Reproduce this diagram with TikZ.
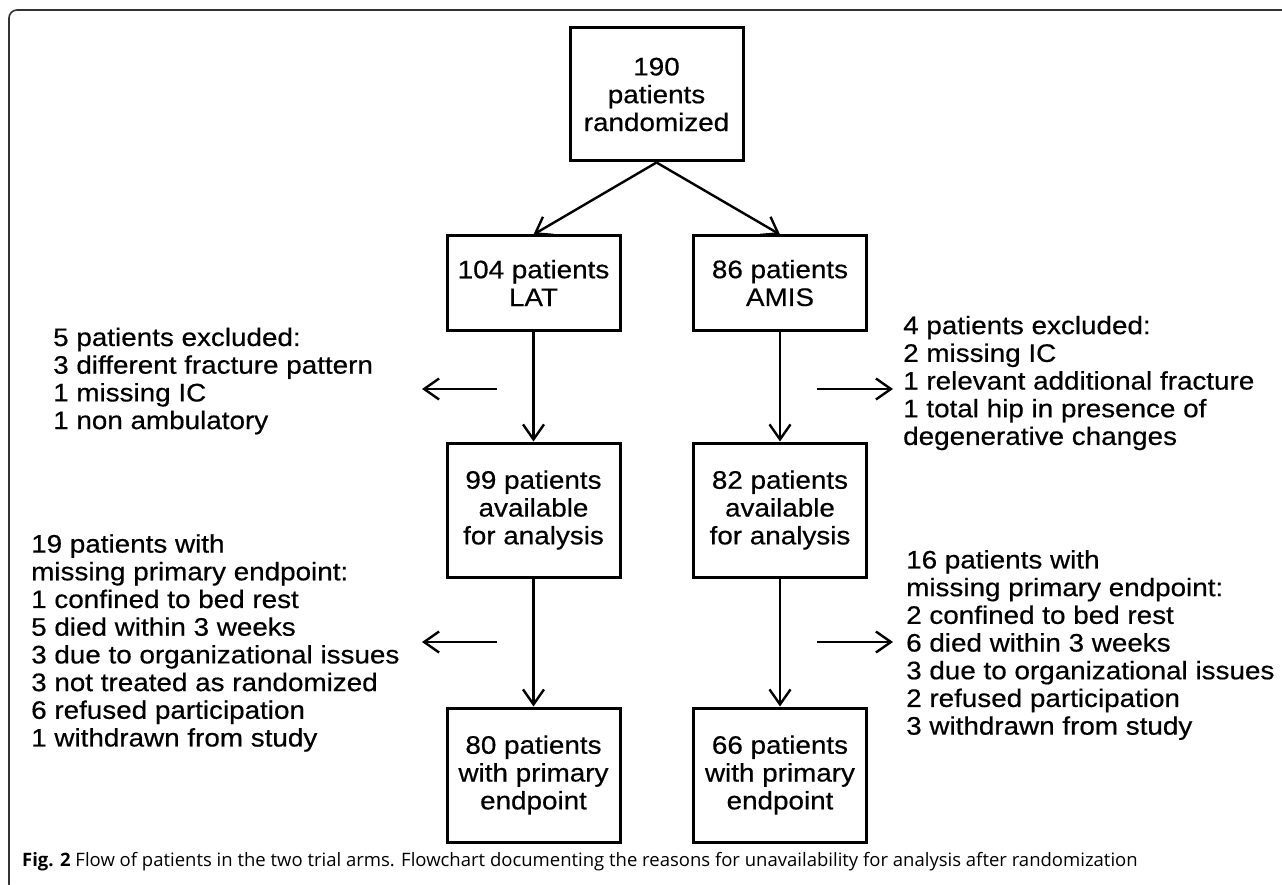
\documentclass[tikz,border=0pt]{standalone}
\usepackage{fontspec}
\usetikzlibrary{arrows.meta}
\newfontfamily\diagfont{Liberation Sans}[FakeStretch=1.1,FakeBold=0.5]
\newfontfamily\capfont{Open Sans}
\begin{document}
\begin{tikzpicture}[x=1pt,y=-1pt,
  box/.style={draw=black, line width=3pt, inner sep=0pt, align=center,
    minimum width=173pt, font=\diagfont\fontsize{25.3}{27.8}\selectfont},
  sidetext/.style={inner sep=0pt, align=left, font=\diagfont\fontsize{25.3}{27.7}\selectfont},
  arr/.style={line width=2.4pt, -{Straight Barb[length=15pt,width=21pt]}},
  frame/.style={draw=black!80, line width=1.6pt, rounded corners=8pt}]
\useasboundingbox (0,0) rectangle (1282,885);
\clip (0,0) rectangle (1282,885);
\fill[white] (0,0) rectangle (1282,885);
\draw[frame] (9,10) rectangle (1300,892);

% boxes
\node[box, minimum height=133pt] (rand) at (656.5,94.5) {190\\patients\\randomized};
\node[box, minimum height=94pt] (lat) at (533.5,283) {104 patients\\LAT};
\node[box, minimum height=94pt] (amis) at (780,283) {86 patients\\AMIS};
\node[box, minimum height=134pt] (avl) at (533.5,510) {99 patients\\available\\for analysis};
\node[box, minimum height=134pt] (avr) at (780,510) {82 patients\\available\\for analysis};
\node[box, minimum height=134pt] (pel) at (533.5,775) {80 patients\\with primary\\endpoint};
\node[box, minimum height=134pt] (per) at (780,775) {66 patients\\with primary\\endpoint};

% side texts
\node[sidetext, anchor=west] (exl) at (53,381) {5 patients excluded:\\3 different fracture pattern\\1 missing IC\\1 non ambulatory};
\node[sidetext, anchor=west] (exr) at (903,383) {4 patients excluded:\\2 missing IC\\1 relevant additional fracture\\1 total hip in presence of\\degenerative changes};
\node[sidetext, anchor=west] (mil) at (31,643) {19 patients with\\missing primary endpoint:\\1 confined to bed rest\\5 died within 3 weeks\\3 due to organizational issues\\3 not treated as randomized\\6 refused participation\\1 withdrawn from study};
\node[sidetext, anchor=west] (mir) at (906,645) {16 patients with\\missing primary endpoint:\\2 confined to bed rest\\6 died within 3 weeks\\3 due to organizational issues\\2 refused participation\\3 withdrawn from study};

% main connectors
\draw[arr] (rand.south) -- (lat.north);
\draw[arr] (rand.south) -- (amis.north);
\draw[arr] (lat) -- (avl);
\draw[arr] (amis) -- (avr);
\draw[arr] (avl) -- (pel);
\draw[arr] (avr) -- (per);

% side arrows
\coordinate (l1s) at (497,389); \coordinate (l1e) at (422,389);
\coordinate (r1s) at (817,389); \coordinate (r1e) at (893,389);
\coordinate (l2s) at (497,642); \coordinate (l2e) at (422,642);
\coordinate (r2s) at (817,642); \coordinate (r2e) at (893,642);
\draw[arr] (l1s) -- (l1e);
\draw[arr] (r1s) -- (r1e);
\draw[arr] (l2s) -- (l2e);
\draw[arr] (r2s) -- (r2e);

% caption
\node[anchor=base west, inner sep=0pt, font=\capfont\fontsize{18.5}{21}\selectfont] (cap) at (22,866)
  {\textbf{Fig. 2} Flow of patients in the two trial arms. Flowchart documenting the reasons for unavailability for analysis after randomization};
\end{tikzpicture}
\end{document}
